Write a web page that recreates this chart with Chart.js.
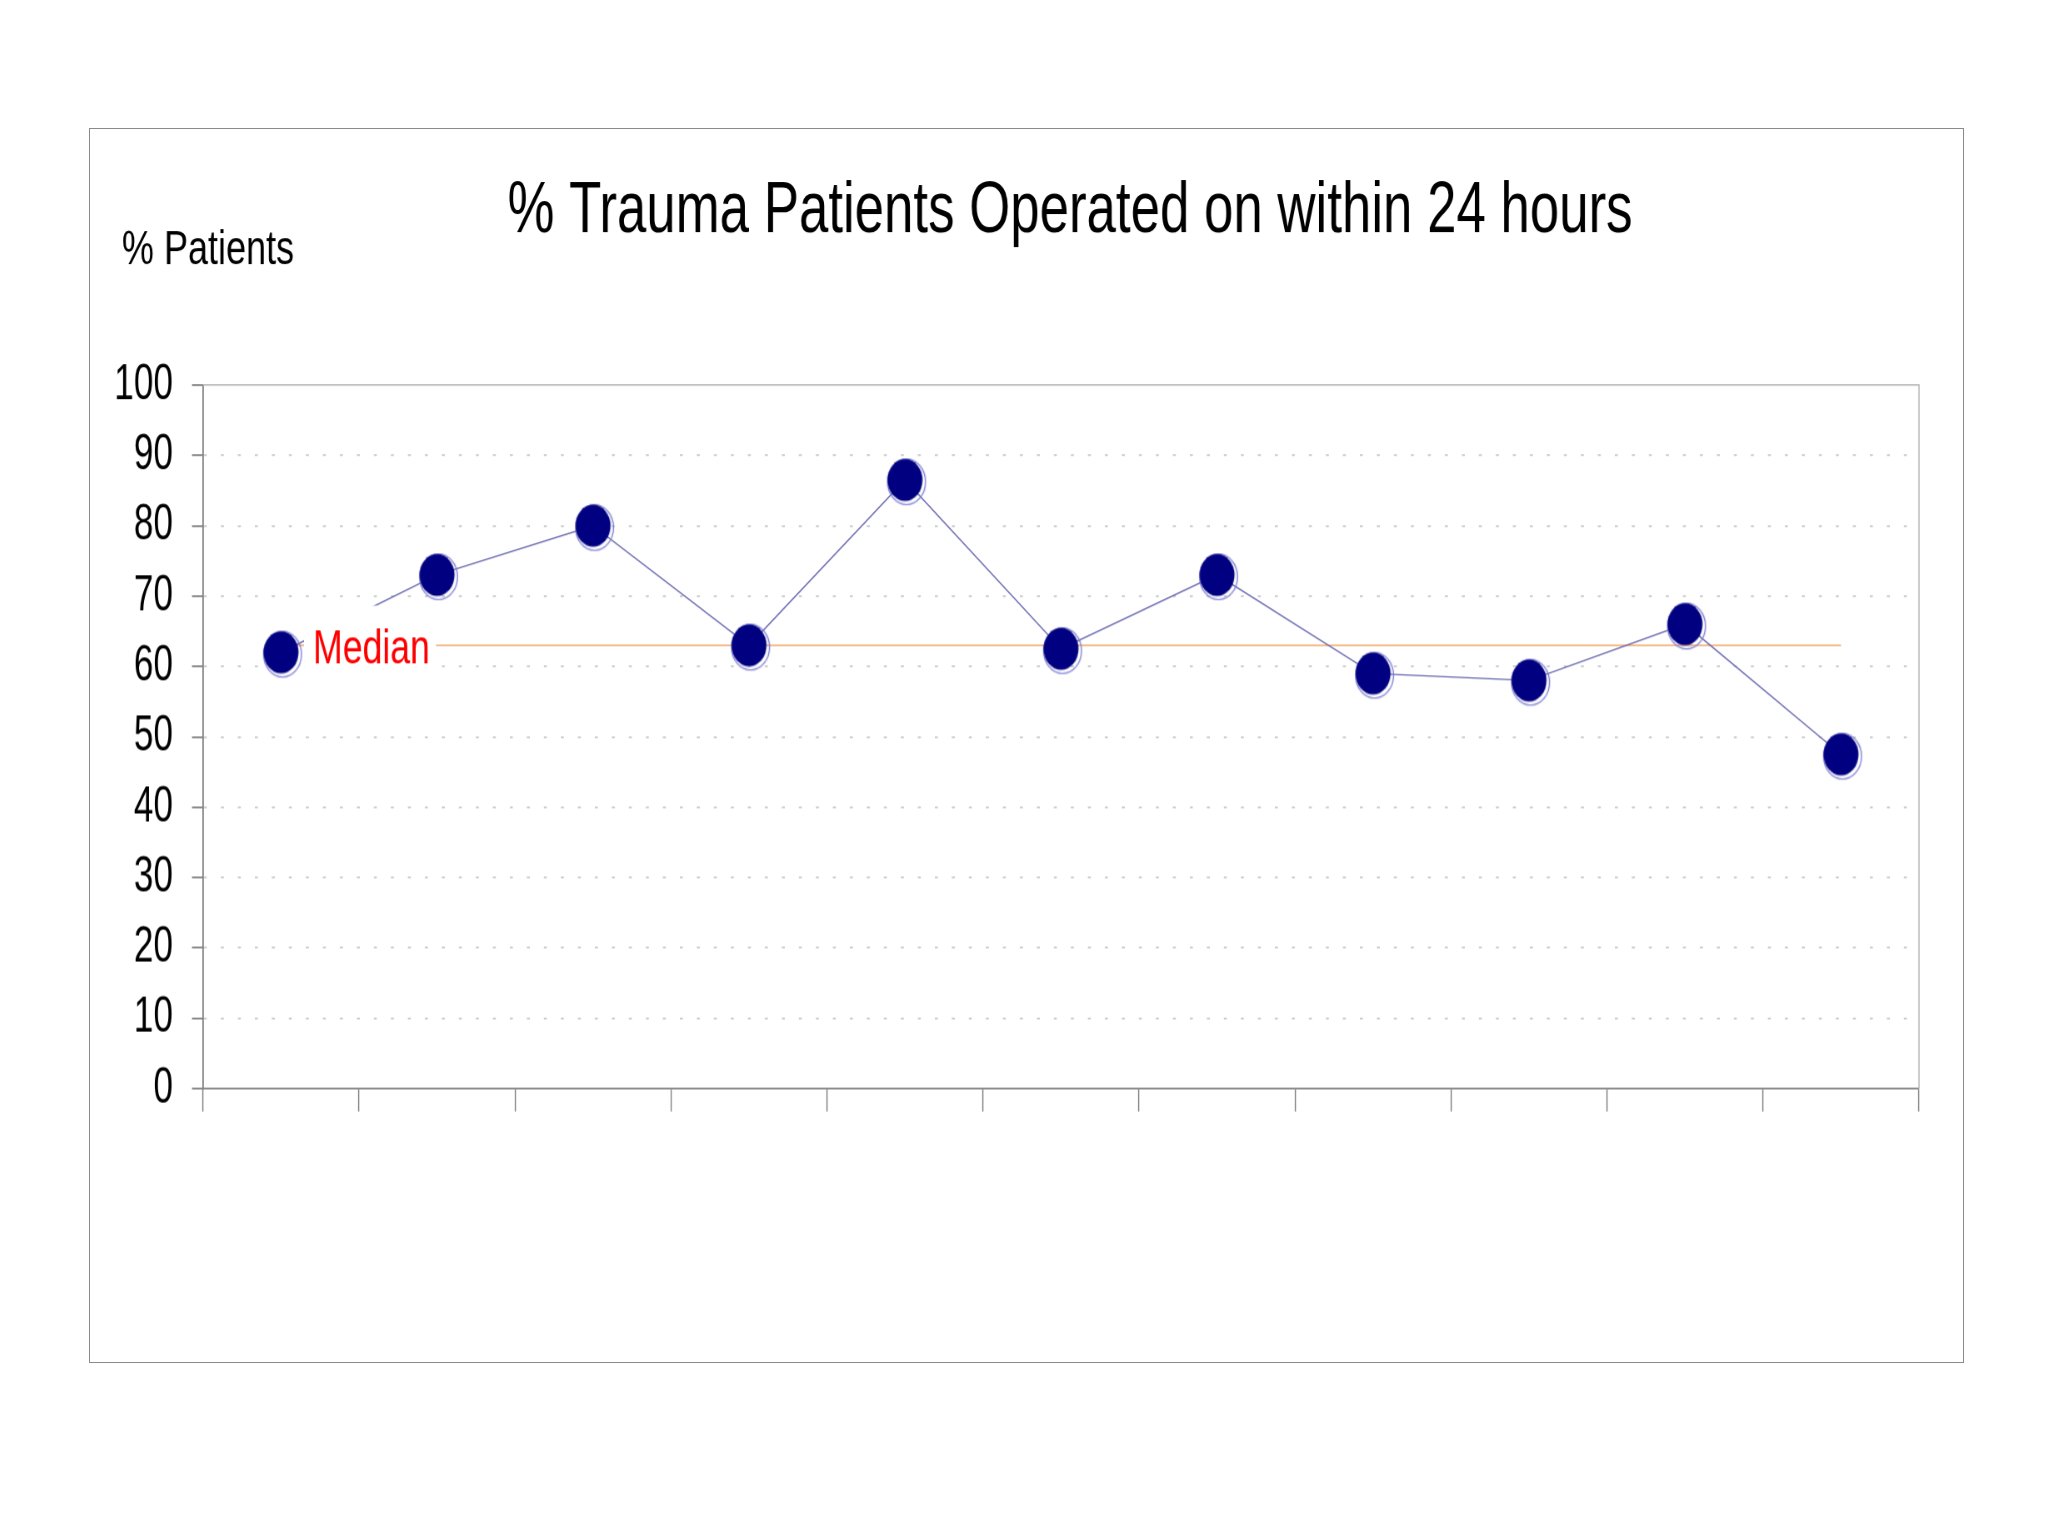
<!DOCTYPE html>
<html lang="en">

<head>
    <meta charset="UTF-8">
    <title>% Trauma Patients Operated on within 24 hours</title>
    <script src="https://cdn.jsdelivr.net/npm/chart.js"></script>
    <style>
        body {
            margin: 0;
            background: #fff;
            width: 2048px;
            height: 1536px;
            position: relative;
            overflow: hidden;
        }

        .frame {
            position: absolute;
            left: 89px;
            top: 128px;
            width: 1875px;
            height: 1235px;
            box-sizing: border-box;
            border: 1.5px solid #8a8a8a;
        }

        /* the slide was stretched vertically, so the chart is too */
        #myChart {
            position: absolute;
            left: 89px;
            top: 128px;
            transform: scaleY(1.2);
            transform-origin: 0 0;
        }
    </style>
</head>

<body>
    <div class="frame"></div>
    <canvas id="myChart" width="1875" height="1029"></canvas>

    <script>
        // data
        const periods = ['', '', '', '', '', '', '', '', '', '', ''];
        const percentOperated = [62, 73, 80, 63, 86.5, 62.5, 73, 59, 58, 66, 47.5];
        const medianValue = 63;
        const yMin = 0;
        const yMax = 100;
        const yStep = 10;

        const titleText = '% Trauma Patients Operated on within 24 hours';
        const yTitleText = '% Patients';
        const medianText = 'Median';

        const fontFamily = "'Liberation Sans', Arial, sans-serif";

        // text in Arial Narrow look: Liberation Sans squeezed sideways
        function narrowText(c, text, x, y, size, squeeze, align) {
            c.save();
            c.font = size + 'px ' + fontFamily;
            const w = c.measureText(text).width * squeeze;
            let left = x;
            if (align === 'center') left = x - w / 2;
            if (align === 'right') left = x - w;
            c.translate(left, y);
            c.scale(squeeze, 1);
            c.textAlign = 'left';
            c.textBaseline = 'alphabetic';
            c.fillText(text, 0, 0);
            c.restore();
            return w;
        }

        // navy blob with the pale blue outline
        function makeMarker() {
            const c = document.createElement('canvas');
            c.width = 50;
            c.height = 50;
            const g = c.getContext('2d');
            g.strokeStyle = '#7c7cd2';
            g.lineWidth = 1.2;
            g.beginPath();
            g.arc(26.5, 26.5, 19, 0, Math.PI * 2);
            g.stroke();
            g.fillStyle = '#000080';
            g.beginPath();
            g.arc(25, 25, 17.5, 0, Math.PI * 2);
            g.fill();
            return c;
        }

        const extras = {
            id: 'extras',
            beforeDatasetsDraw(chart) {
                const { ctx, chartArea } = chart;
                ctx.save();
                ctx.strokeStyle = '#b4b4b4';
                ctx.lineWidth = 1.2;
                ctx.beginPath();
                ctx.moveTo(chartArea.left, chartArea.top);
                ctx.lineTo(chartArea.right, chartArea.top);
                ctx.lineTo(chartArea.right, chartArea.bottom);
                ctx.stroke();
                ctx.restore();
            },
            afterDatasetsDraw(chart) {
                const { ctx } = chart;
                const x = chart.scales.x;
                const y = chart.scales.y;
                const textX = x.getPixelForValue(0) + 32;
                const base = y.getPixelForValue(medianValue) + 15;
                ctx.save();
                ctx.fillStyle = '#fff';
                ctx.fillRect(textX - 9, base - 48, 132, 70);
                ctx.fillStyle = '#ff0000';
                narrowText(ctx, medianText, textX, base, 40, 0.89, 'left');
                ctx.restore();
            },
            afterDraw(chart) {
                const { ctx } = chart;
                const y = chart.scales.y;
                ctx.save();
                ctx.fillStyle = '#000';
                // y tick labels, taken from the axis ticks
                y.ticks.forEach(t => {
                    narrowText(ctx, String(t.value), y.right - 11 - 19, y.getPixelForValue(t.value) + 11.5, 42, 0.84, 'right');
                });
                narrowText(ctx, titleText, 981, 87, 60, 0.88, 'center');
                narrowText(ctx, yTitleText, 33, 113, 40, 0.9, 'left');
                ctx.restore();
            }
        };

        const canvas = document.getElementById('myChart');
        const ctx = canvas.getContext('2d');

        const chart = new Chart(ctx, {
            type: 'line',
            data: {
                labels: periods,
                datasets: [{
                    label: yTitleText,
                    data: percentOperated,
                    borderColor: '#6868b0',
                    borderWidth: 1.2,
                    pointStyle: makeMarker(),
                    pointRadius: 18,
                    order: 1
                }, {
                    label: medianText,
                    data: periods.map(() => medianValue),
                    borderColor: '#f2a868',
                    borderWidth: 1.2,
                    pointRadius: 0,
                    order: 2
                }]
            },
            options: {
                responsive: false,
                animation: false,
                devicePixelRatio: 1.2,
                layout: {
                    padding: { left: 0, right: 45, top: 214, bottom: 199 }
                },
                plugins: {
                    legend: { display: false },
                    tooltip: { enabled: false },
                    title: { display: false }
                },
                scales: {
                    x: {
                        offset: true,
                        grid: {
                            offset: true,
                            drawOnChartArea: false,
                            tickLength: 19,
                            tickColor: '#808080',
                            tickWidth: 1.2
                        },
                        border: { color: '#808080', width: 1.5 },
                        ticks: { display: false },
                        afterFit: scale => { scale.height = 30; }
                    },
                    y: {
                        min: yMin,
                        max: yMax,
                        ticks: {
                            stepSize: yStep,
                            display: false
                        },
                        grid: {
                            color: c => (c.tick && c.tick.value > yMin && c.tick.value < yMax) ? '#c8c8c8' : 'rgba(0,0,0,0)',
                            lineWidth: 1.5,
                            tickColor: '#808080',
                            tickWidth: 1.5,
                            tickLength: 11,
                            tickBorderDash: []
                        },
                        border: { color: '#808080', width: 1.5, dash: [3, 14] },
                        afterFit: scale => { scale.width = 114; }
                    }
                }
            },
            plugins: [extras]
        });
    </script>

</body>

</html>
